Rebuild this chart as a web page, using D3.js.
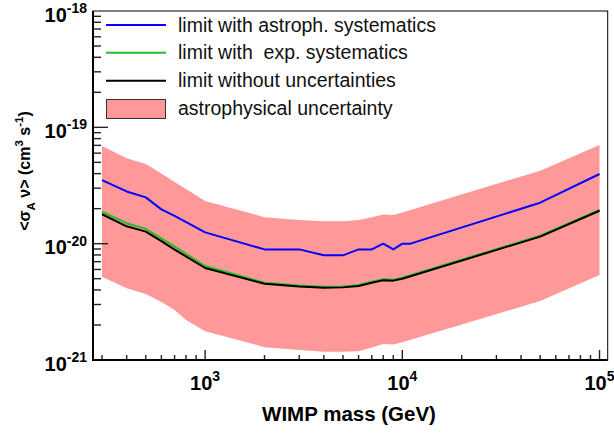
<!DOCTYPE html>
<html>
<head>
<meta charset="utf-8">
<script src="https://cdn.jsdelivr.net/npm/d3@7"></script>
<style>
  body { margin: 0; background: #fff; }
  svg text { font-family: "Liberation Sans", Arial, Helvetica, sans-serif; }
</style>
</head>
<body>
<div id="chart"></div>
<script>
// --- data (mass in GeV, <sigma v> in cm^3 s^-1) ---
const massAstro = [300, 400, 500, 600, 700, 1000, 2000, 3000, 4000, 5000, 6000, 7000, 8000, 9000, 10000, 11000, 50000, 100000];
const limitAstro = [3.52e-20, 2.81e-20, 2.50e-20, 1.97e-20, 1.73e-20, 1.25e-20, 8.93e-21, 8.93e-21, 7.94e-21, 7.94e-21, 8.93e-21, 8.93e-21, 1.0e-20, 8.93e-21, 1.0e-20, 1.0e-20, 2.25e-20, 3.97e-20];

const massExp = [300, 400, 500, 600, 700, 1000, 2000, 3000, 4000, 5000, 6000, 7000, 8000, 9000, 10000, 50000, 100000];
const limitExp = [1.88e-20, 1.50e-20, 1.34e-20, 1.11e-20, 9.42e-21, 6.43e-21, 4.61e-21, 4.38e-21, 4.27e-21, 4.29e-21, 4.42e-21, 4.71e-21, 4.94e-21, 4.90e-21, 5.09e-21, 1.17e-20, 1.95e-20];
const limitNone = [1.79e-20, 1.41e-20, 1.27e-20, 1.05e-20, 8.90e-21, 6.18e-21, 4.52e-21, 4.29e-21, 4.18e-21, 4.21e-21, 4.33e-21, 4.62e-21, 4.84e-21, 4.81e-21, 5.00e-21, 1.15e-20, 1.92e-20];

const massBand = [300, 400, 500, 600, 700, 800, 1000, 2000, 3000, 4000, 5000, 6000, 7000, 8000, 9000, 10000, 50000, 100000];
const bandHigh = [6.92e-20, 5.42e-20, 4.84e-20, 4.01e-20, 3.39e-20, 2.95e-20, 2.33e-20, 1.69e-20, 1.60e-20, 1.56e-20, 1.56e-20, 1.60e-20, 1.69e-20, 1.78e-20, 1.76e-20, 1.85e-20, 4.24e-20, 7.05e-20];
const bandLow = [5.20e-21, 4.13e-21, 3.69e-21, 3.15e-21, 2.69e-21, 2.21e-21, 1.77e-21, 1.29e-21, 1.22e-21, 1.18e-21, 1.18e-21, 1.19e-21, 1.28e-21, 1.37e-21, 1.36e-21, 1.42e-21, 3.21e-21, 5.38e-21];

const xMajor = [1e3, 1e4, 1e5];
const xMajorExp = ["3", "4", "5"];
const yMajor = [1e-21, 1e-20, 1e-19, 1e-18];
const yMajorExp = ["-21", "-20", "-19", "-18"];

const legendLabels = ["limit with astroph. systematics", "limit with  exp. systematics", "limit without uncertainties", "astrophysical uncertainty"];

// --- layout ---
const W = 614, H = 436;
const padL = 93, padR = 607.7, padT = 11, padB = 360;
const C_BAND = "#ff9999", C_BLUE = "#0000ff", C_GREEN = "#22c022", C_BLACK = "#000000";

const x = d3.scaleLog().domain([270, 110000]).range([padL, padR]);
const y = d3.scaleLog().domain([1e-21, 1e-18]).range([padB, padT]);

const svg = d3.select("#chart").append("svg").attr("width", W).attr("height", H);
svg.append("rect").attr("width", W).attr("height", H).attr("fill", "#fff");

// band
const area = d3.area()
    .x((d, i) => x(massBand[i]))
    .y0((d, i) => y(bandLow[i]))
    .y1((d, i) => y(bandHigh[i]));
svg.append("path").datum(massBand).attr("d", area).attr("fill", C_BAND);

// lines
function drawLine(mass, vals, color) {
    const line = d3.line().x((d, i) => x(mass[i])).y(d => y(d));
    svg.append("path").datum(vals).attr("d", line)
       .attr("fill", "none").attr("stroke", color).attr("stroke-width", 2)
       .attr("stroke-linejoin", "round");
}
drawLine(massAstro, limitAstro, C_BLUE);
drawLine(massExp, limitExp, C_GREEN);
drawLine(massExp, limitNone, C_BLACK);

// frame
svg.append("rect").attr("x", padL).attr("y", padT).attr("width", padR - padL).attr("height", padB - padT)
   .attr("fill", "none").attr("stroke", "#000").attr("stroke-width", 1);

// ticks
const tickG = svg.append("g").attr("stroke", "#222").attr("stroke-width", 1.4);
const [x0, x1] = x.domain();
for (let e = 2; e <= 5; e++) {
    for (let k = 1; k <= 9; k++) {
        const v = k * Math.pow(10, e);
        if (v < x0 || v > x1) continue;
        const len = k === 1 ? 10 : 5;
        tickG.append("line").attr("x1", x(v)).attr("x2", x(v)).attr("y1", padB).attr("y2", padB - len);
    }
}
for (let e = -21; e <= -19; e++) {
    for (let k = 1; k <= 9; k++) {
        const v = k * Math.pow(10, e);
        const len = k === 1 ? 15 : 8;
        tickG.append("line").attr("x1", padL).attr("x2", padL + len).attr("y1", y(v)).attr("y2", y(v));
    }
}

// axis lines
svg.append("line").attr("x1", padL).attr("x2", padL).attr("y1", padT).attr("y2", padB + 1)
   .attr("stroke", "#000").attr("stroke-width", 2);
svg.append("line").attr("x1", padL - 1).attr("x2", padR).attr("y1", padB).attr("y2", padB)
   .attr("stroke", "#000").attr("stroke-width", 2);

// tick labels
xMajor.forEach((v, i) => {
    const t = svg.append("text").attr("x", x(v)).attr("y", padB + 30)
        .attr("text-anchor", "middle").attr("font-size", 20).attr("font-weight", "bold");
    t.append("tspan").text("10");
    t.append("tspan").attr("dy", -9).attr("font-size", 14).text(xMajorExp[i]);
});
yMajor.forEach((v, i) => {
    const t = svg.append("text").attr("x", padL - 6).attr("y", y(v) + 10.5)
        .attr("text-anchor", "end").attr("font-size", 20).attr("font-weight", "bold");
    t.append("tspan").text("10");
    t.append("tspan").attr("dy", -8.5).attr("font-size", 14).text(yMajorExp[i]);
});

// axis titles
svg.append("text").attr("x", 349).attr("y", 421).attr("text-anchor", "middle")
   .attr("font-size", 20.5).attr("font-weight", "bold").text("WIMP mass (GeV)");

const yt = svg.append("text").attr("transform", "translate(30,171) rotate(-90)")
   .attr("text-anchor", "middle").attr("font-size", 16).attr("font-weight", "bold");
yt.append("tspan").text("<σ");
yt.append("tspan").attr("dy", 5).attr("font-size", 11.5).text("A");
yt.append("tspan").attr("dy", -5).text(" ν> (cm");
yt.append("tspan").attr("dy", -7).attr("font-size", 11.5).text("3");
yt.append("tspan").attr("dy", 7).text(" s");
yt.append("tspan").attr("dy", -7).attr("font-size", 11.5).text("-1");
yt.append("tspan").attr("dy", 7).text(")");

// legend
const legRowsY = [25, 52.7, 80.7, 108.7];
const legColors = [C_BLUE, C_GREEN, C_BLACK];
legendLabels.forEach((lab, i) => {
    const cy = legRowsY[i];
    if (i < 3) {
        svg.append("line").attr("x1", 106).attr("x2", 166).attr("y1", cy).attr("y2", cy)
           .attr("stroke", legColors[i]).attr("stroke-width", 2);
    } else {
        svg.append("rect").attr("x", 106.5).attr("y", 99.5).attr("width", 59).attr("height", 19)
           .attr("fill", C_BAND).attr("stroke", "#333").attr("stroke-width", 1);
    }
    svg.append("text").attr("x", 178).attr("y", cy + 6.5).attr("font-size", 19.5)
       .attr("fill", "#111").style("white-space", "pre").text(lab);
});
</script>
</body>
</html>
